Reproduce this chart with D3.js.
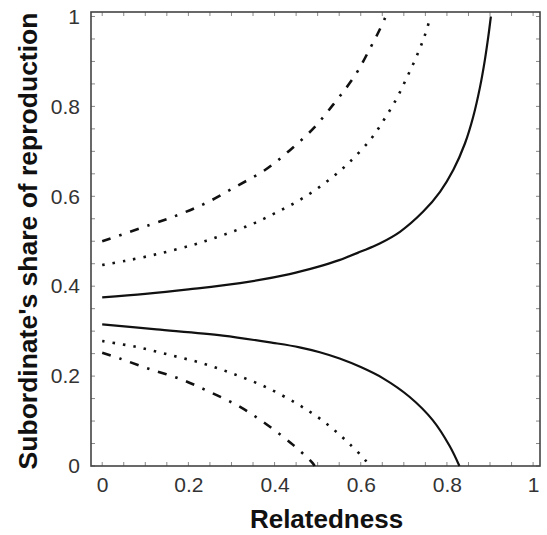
<!DOCTYPE html>
<html>
<head>
<meta charset="utf-8">
<script src="https://cdn.jsdelivr.net/npm/d3@7"></script>
<style>
  html, body { margin: 0; padding: 0; background: #fff; }
  svg { display: block; font-family: 'Liberation Sans', Arial, sans-serif; }
</style>
</head>
<body>
<div id="chart"></div>
<script>
// values: [relatedness, subordinate's share]
const solidUpper = [[0, 0.375], [0.1, 0.383], [0.2, 0.393], [0.32, 0.407], [0.435, 0.427], [0.5, 0.443], [0.55, 0.458], [0.6, 0.477], [0.644, 0.495], [0.691, 0.521], [0.745, 0.566], [0.784, 0.61], [0.815, 0.659], [0.842, 0.718], [0.861, 0.777], [0.877, 0.844], [0.888, 0.903], [0.896, 0.955], [0.902, 1.0]];
const dottedUpper = [[0, 0.447], [0.052, 0.456], [0.13, 0.472], [0.207, 0.491], [0.257, 0.506], [0.307, 0.523], [0.355, 0.541], [0.4, 0.562], [0.448, 0.586], [0.493, 0.613], [0.536, 0.644], [0.574, 0.676], [0.624, 0.728], [0.655, 0.772], [0.683, 0.817], [0.706, 0.862], [0.729, 0.91], [0.748, 0.956], [0.762, 1.0]];
const dashDotUpper = [[0, 0.5], [0.11, 0.536], [0.18, 0.56], [0.245, 0.587], [0.311, 0.622], [0.377, 0.658], [0.435, 0.702], [0.493, 0.754], [0.536, 0.804], [0.567, 0.842], [0.594, 0.88], [0.621, 0.928], [0.641, 0.965], [0.658, 1.0]];
const solidLower = [[0, 0.315], [0.126, 0.304], [0.28, 0.29], [0.396, 0.274], [0.458, 0.264], [0.505, 0.253], [0.551, 0.239], [0.6, 0.22], [0.652, 0.195], [0.713, 0.154], [0.767, 0.102], [0.806, 0.045], [0.829, 0]];
const dottedLower = [[0, 0.278], [0.079, 0.265], [0.157, 0.247], [0.234, 0.228], [0.307, 0.204], [0.381, 0.175], [0.451, 0.139], [0.497, 0.111], [0.536, 0.082], [0.574, 0.049], [0.613, 0.01], [0.618, 0]];
const dashDotLower = [[0, 0.252], [0.041, 0.239], [0.106, 0.217], [0.18, 0.194], [0.249, 0.165], [0.319, 0.132], [0.381, 0.093], [0.443, 0.047], [0.489, 0.006], [0.493, 0]];

const xTicks = [0, 0.2, 0.4, 0.6, 0.8, 1];
const yTicks = [0, 0.2, 0.4, 0.6, 0.8, 1];
const xLabel = 'Relatedness';
const yLabel = "Subordinate's share of reproduction";

const W = 547, H = 535;
const M = { t: 12, r: 7, b: 69, l: 91 };

const svg = d3.select('#chart').append('svg')
  .attr('width', W)
  .attr('height', H)
  .attr('viewBox', `0 0 ${W} ${H}`);

const x = d3.scaleLinear().domain([-0.026, 1.016]).range([M.l, W - M.r]);
const y = d3.scaleLinear().domain([0, 1.01]).range([H - M.b, M.t]);

// small inward ticks on all four sides
const minor = d3.range(0, 1.0001, 0.05);
const tickG = svg.append('g').attr('stroke', '#888').attr('stroke-width', 1);
minor.forEach(v => {
  tickG.append('line').attr('x1', x(v)).attr('x2', x(v)).attr('y1', y.range()[0]).attr('y2', y.range()[0] - 4);
  tickG.append('line').attr('x1', x(v)).attr('x2', x(v)).attr('y1', y.range()[1]).attr('y2', y.range()[1] + 4);
  tickG.append('line').attr('y1', y(v)).attr('y2', y(v)).attr('x1', x.range()[0]).attr('x2', x.range()[0] + 4);
  tickG.append('line').attr('y1', y(v)).attr('y2', y(v)).attr('x1', x.range()[1]).attr('x2', x.range()[1] - 4);
});

// frame
svg.append('rect')
  .attr('x', M.l)
  .attr('y', M.t)
  .attr('width', W - M.r - M.l)
  .attr('height', H - M.b - M.t)
  .attr('fill', 'none')
  .attr('stroke', '#444')
  .attr('stroke-width', 1.6);

const fmt = d => (d === 0 || d === 1) ? String(d) : d3.format('.1f')(d);

svg.append('g')
  .attr('transform', `translate(0,${H - M.b})`)
  .call(d3.axisBottom(x).tickValues(xTicks).tickSize(0).tickPadding(11).tickFormat(fmt))
  .call(g => g.select('.domain').remove())
  .selectAll('text')
  .attr('fill', '#333')
  .style('font-size', '21px')
  .style('font-family', "'Liberation Sans', Arial, sans-serif");

svg.append('g')
  .attr('transform', `translate(${M.l},0)`)
  .call(d3.axisLeft(y).tickValues(yTicks).tickSize(0).tickPadding(11).tickFormat(fmt))
  .call(g => g.select('.domain').remove())
  .selectAll('text')
  .attr('fill', '#333')
  .style('font-size', '21px')
  .style('font-family', "'Liberation Sans', Arial, sans-serif");

const line = d3.line()
  .x(d => x(d[0]))
  .y(d => y(d[1]))
  .curve(d3.curveCatmullRom.alpha(0.5));

const series = [
  [solidUpper, null],
  [solidLower, null],
  [dottedUpper, '2.5 8'],
  [dottedLower, '2.5 8'],
  [dashDotUpper, '9 9 2.5 9'],
  [dashDotLower, '9 9 2.5 9']
];

series.forEach(([data, dash]) => {
  const p = svg.append('path')
    .datum(data)
    .attr('fill', 'none')
    .attr('stroke', '#111')
    .attr('stroke-width', dash ? 2.6 : 2.2)
    .attr('d', line);
  if (dash) p.attr('stroke-dasharray', dash);
});

svg.append('text')
  .attr('x', (x.range()[0] + x.range()[1]) / 2 + 11)
  .attr('y', 528)
  .attr('text-anchor', 'middle')
  .style('font-size', '26px')
  .style('font-weight', 'bold')
  .attr('fill', '#111')
  .text(xLabel);

svg.append('text')
  .attr('transform', `translate(37,${(y.range()[0] + y.range()[1]) / 2 + 2}) rotate(-90)`)
  .attr('text-anchor', 'middle')
  .style('font-size', '26.5px')
  .style('font-weight', 'bold')
  .attr('fill', '#111')
  .text(yLabel);
</script>
</body>
</html>
